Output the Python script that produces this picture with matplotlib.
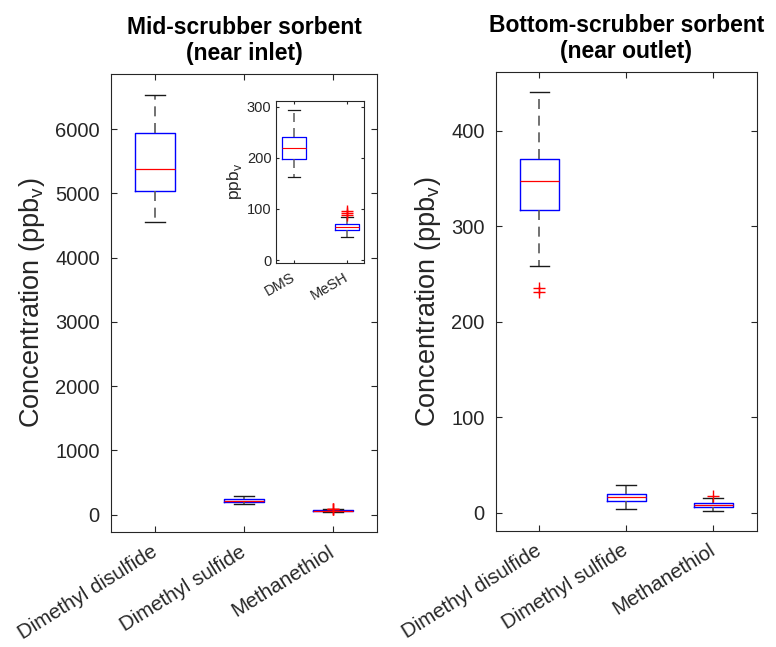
import matplotlib.pyplot as plt
import numpy as np

plt.rcParams['font.family'] = ['Liberation Sans', 'DejaVu Sans']

# Data (ppbv)
compounds = ['Dimethyl disulfide', 'Dimethyl sulfide', 'Methanethiol']
inset_labels = ['DMS', 'MeSH']

# mid-scrubber (near inlet)
mid_whislo = [4560, 162, 45]
mid_q1 = [5045, 198, 59]
mid_med = [5385, 220, 64]
mid_q3 = [5935, 241, 70]
mid_whishi = [6540, 293, 85]
mid_fliers = [[], [], [89, 92, 96]]

# bottom-scrubber (near outlet)
bot_whislo = [258, 4.2, 2.1]
bot_q1 = [317, 12.2, 5.9]
bot_med = [347, 16.8, 8.4]
bot_q3 = [371, 20, 10]
bot_whishi = [441, 29, 15]
bot_fliers = [[235, 231], [], [17]]


def make_stats(lo, q1, med, q3, hi, fl, idx):
    return [dict(whislo=lo[i], q1=q1[i], med=med[i], q3=q3[i], whishi=hi[i],
                 fliers=fl[i]) for i in idx]


def draw_box(ax, stats, lw=1.0, ms=9):
    ax.bxp(stats, widths=0.45, capwidths=0.225, showfliers=True,
           boxprops=dict(color='blue', linewidth=lw),
           medianprops=dict(color='red', linewidth=lw * 0.9),
           whiskerprops=dict(color='0.35', linewidth=lw * 1.2,
                             linestyle=(0, (6, 4))),
           capprops=dict(color='0.1', linewidth=lw),
           flierprops=dict(marker='+', markeredgecolor='red', markersize=ms,
                           markeredgewidth=1.0, linestyle='none'))


def style_axes(ax, size, pad=8):
    ax.tick_params(direction='in', top=True, right=True, labelsize=size,
                   colors='0.15', length=4, pad=pad)
    for s in ax.spines.values():
        s.set_color('0.15')
        s.set_linewidth(0.8)


fig = plt.figure(figsize=(7.76, 6.47), dpi=100)

# Left panel
ax1 = fig.add_axes([0.143, 0.1777, 0.343, 0.708])
draw_box(ax1, make_stats(mid_whislo, mid_q1, mid_med, mid_q3, mid_whishi,
                         mid_fliers, [0, 1, 2]))
ax1.set_xlim(0.5, 3.5)
ax1.set_ylim(-270, 6860)
ax1.set_yticks([0, 1000, 2000, 3000, 4000, 5000, 6000])
ax1.set_xticks([1, 2, 3])
ax1.set_xticklabels(compounds, rotation=32, ha='right', va='center',
                    rotation_mode='anchor')
style_axes(ax1, 14.5)
ax1.tick_params(axis='x', labelsize=14.8, pad=13)
ax1.set_ylabel('Concentration (ppb$_\\mathregular{v}$)', fontsize=19.5,
               color='0.15', labelpad=6)
ax1.set_title('Mid-scrubber sorbent\n(near inlet)', fontsize=16.5,
              fontweight='bold', pad=10, linespacing=1.15)

# Inset
axi = fig.add_axes([0.3553, 0.594, 0.1138, 0.25])
draw_box(axi, make_stats(mid_whislo, mid_q1, mid_med, mid_q3, mid_whishi,
                         mid_fliers, [1, 2]), lw=0.9, ms=8)
axi.set_xlim(0.65, 2.33)
axi.set_ylim(-5, 311)
axi.set_yticks([0, 100, 200, 300])
axi.set_xticks([1, 2])
axi.set_xticklabels(inset_labels, rotation=30, ha='right', va='center',
                    rotation_mode='anchor')
style_axes(axi, 10.5, pad=3)
axi.tick_params(length=2.5)
axi.tick_params(axis='x', pad=10)
axi.set_ylabel('ppb$_\\mathregular{v}$', fontsize=12.5, color='0.15',
               labelpad=2)

# Right panel
ax2 = fig.add_axes([0.639, 0.1797, 0.336, 0.7095])
draw_box(ax2, make_stats(bot_whislo, bot_q1, bot_med, bot_q3, bot_whishi,
                         bot_fliers, [0, 1, 2]))
ax2.set_xlim(0.5, 3.5)
ax2.set_ylim(-19, 462)
ax2.set_yticks([0, 100, 200, 300, 400])
ax2.set_xticks([1, 2, 3])
ax2.set_xticklabels(compounds, rotation=32, ha='right', va='center',
                    rotation_mode='anchor')
style_axes(ax2, 14.5)
ax2.tick_params(axis='x', labelsize=14.8, pad=13)
ax2.set_ylabel('Concentration (ppb$_\\mathregular{v}$)', fontsize=19.5,
               color='0.15', labelpad=6)
ax2.set_title('Bottom-scrubber sorbent\n(near outlet)', fontsize=16.5,
              fontweight='bold', pad=10, linespacing=1.15)

fig.savefig('out.png', dpi=100)
